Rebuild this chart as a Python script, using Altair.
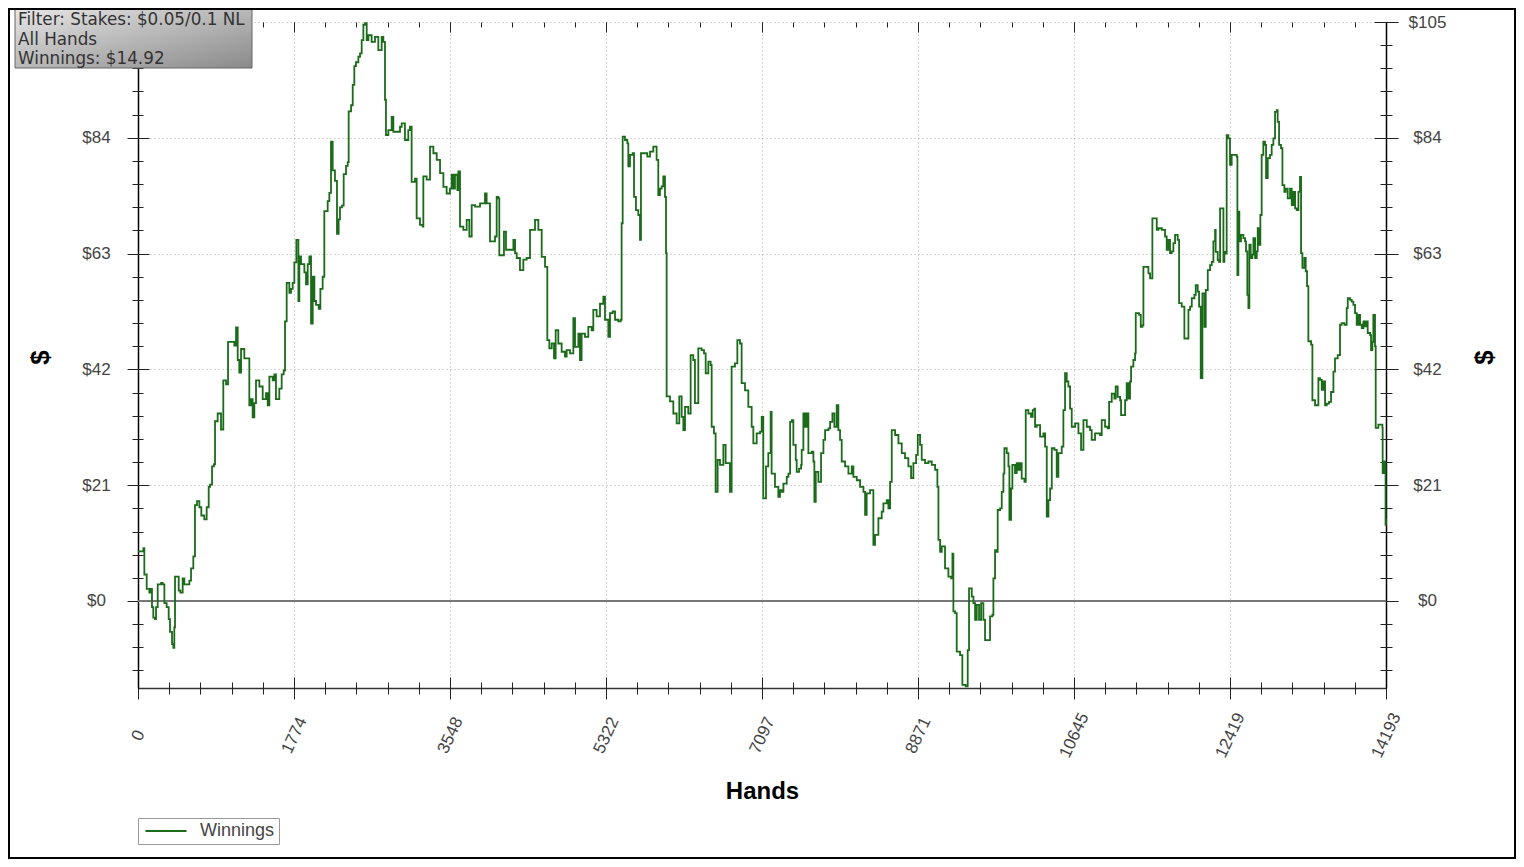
import altair as alt
import pandas as pd

# cumulative winnings, split in runs of hands
hands_1 = [0, 61, 72, 99, 129, 148, 159, 174, 193, 205,
           224, 262, 281, 300, 326, 349, 364, 387, 402, 413,
           421, 440, 463, 482, 508, 527, 546, 584, 603, 629,
           648, 671, 698, 720, 754, 781, 804, 819, 842, 864,
           876, 906, 925, 944, 963, 970, 1001, 1024, 1058, 1096,
           1115, 1134, 1152, 1172, 1209, 1247, 1266, 1285, 1304, 1323,
           1342, 1380, 1418, 1456, 1475, 1494, 1532, 1551, 1569, 1607,
           1634, 1657, 1672, 1691, 1721, 1740, 1759, 1778, 1801, 1824,
           1835, 1854, 1892, 1911, 1930, 1949, 1968, 1987, 2006, 2025,
           2055, 2074, 2100, 2119, 2157, 2176, 2195, 2214, 2240, 2263,
           2282, 2297, 2320, 2339, 2366, 2385, 2396, 2423, 2442, 2460,
           2479]
won_1 = [9.0, 9.6, 4.8, 2.2, 1.5, 2.2, -1.1, -3.0, -3.3, -1.1,
         3.0, 3.3, 3.0, -0.4, -1.1, -3.3, -5.6, -7.8, -8.5, -4.8,
         4.4, 4.4, 1.9, 1.5, 4.1, 3.0, 3.0, 3.7, 5.9, 8.1,
         17.4, 18.1, 17.0, 15.5, 14.8, 17.0, 20.7, 21.1, 24.4, 24.8,
         32.6, 34.0, 34.0, 31.1, 31.1, 40.0, 39.3, 47.0, 47.0, 46.3,
         49.6, 43.7, 41.4, 45.7, 44.0, 44.0, 35.5, 36.6, 33.3, 35.9,
         40.0, 38.9, 36.6, 37.7, 35.5, 40.7, 40.0, 41.1, 36.6, 38.5,
         41.1, 41.8, 50.7, 57.7, 55.9, 56.6, 57.7, 61.4, 65.5, 54.4,
         62.5, 61.1, 59.6, 57.4, 61.1, 62.5, 50.3, 58.8, 54.4, 53.7,
         53.0, 56.6, 58.8, 70.7, 72.5, 74.0, 83.3, 78.1, 76.2, 66.6,
         69.2, 71.4, 71.7, 77.4, 78.9, 79.6, 88.8, 89.9, 93.6, 97.0,
         97.7]

hands_2 = [2506, 2525, 2544, 2563, 2582, 2601, 2620, 2657, 2695, 2733,
           2771, 2790, 2809, 2820, 2847, 2885, 2904, 2980, 2999, 3036,
           3074, 3093, 3112, 3150, 3169, 3207, 3237, 3245, 3283, 3321,
           3359, 3397, 3435, 3473, 3510, 3548, 3567, 3586, 3605, 3632,
           3643, 3662, 3700, 3738, 3768, 3795, 3833, 3890, 3946, 3965,
           4003, 4060, 4079, 4098, 4109, 4147, 4162, 4185, 4212, 4269,
           4288, 4307, 4344, 4382, 4420, 4458, 4515, 4553, 4591, 4629,
           4655, 4678, 4705, 4731, 4750, 4780, 4818, 4856, 4875, 4913]
won_2 = [98.7, 99.3, 101.7, 104.5, 104.8, 101.7, 102.6, 101.4, 102.3, 99.9,
         102.3, 101.4, 90.9, 84.5, 85.4, 87.8, 85.1, 86.0, 86.6, 83.6,
         85.4, 86.0, 76.0, 76.6, 69.4, 68.2, 67.9, 77.0, 76.4, 82.4,
         81.2, 80.0, 77.6, 75.1, 73.9, 74.8, 77.3, 74.8, 77.3, 74.5,
         77.9, 67.9, 67.3, 69.1, 66.1, 71.8, 71.5, 72.1, 73.9, 72.1,
         65.2, 66.1, 73.3, 73.0, 62.7, 62.7, 67.0, 63.7, 63.7, 65.5,
         63.1, 62.2, 60.0, 61.9, 62.2, 67.3, 69.1, 67.3, 62.4, 60.6,
         47.3, 45.8, 46.7, 44.0, 49.1, 46.7, 45.2, 44.3, 45.5, 44.9]

hands_3 = [4951, 4970, 5008, 5026, 5045, 5083, 5121, 5159, 5178, 5216,
           5254, 5292, 5311, 5349, 5368, 5398, 5425, 5462, 5489, 5500,
           5512, 5538, 5565, 5576, 5595, 5625, 5641, 5663, 5690, 5709,
           5720, 5766, 5792, 5823, 5860, 5898, 5917, 5936, 5955, 5974,
           5993, 6005, 6012, 6050, 6088, 6126, 6156, 6183, 6202, 6221,
           6258, 6285, 6315, 6334, 6365, 6372, 6410, 6437, 6456, 6486,
           6512, 6524, 6550, 6569, 6592, 6619, 6657, 6683, 6713, 6732,
           6751, 6789, 6816, 6846, 6865, 6903, 6941, 6979, 6998, 7036,
           7074, 7093, 7111, 7142, 7168, 7195, 7206, 7244, 7282, 7301]
won_3 = [51.3, 46.1, 48.5, 43.7, 48.5, 47.9, 49.7, 49.1, 52.8, 51.6,
         53.9, 55.2, 51.0, 47.9, 52.2, 52.5, 51.0, 50.7, 51.0, 68.5,
         84.2, 83.6, 83.0, 78.8, 80.9, 81.2, 73.3, 70.9, 70.0, 65.5,
         81.2, 81.2, 80.6, 81.5, 82.4, 80.0, 73.6, 74.8, 75.2, 77.0,
         73.3, 63.1, 37.1, 36.2, 34.0, 32.2, 37.1, 33.4, 31.0, 35.2,
         34.0, 44.6, 43.7, 35.9, 35.9, 45.8, 45.5, 44.9, 41.3, 43.4,
         42.8, 31.6, 30.4, 19.8, 25.6, 24.7, 28.3, 25.0, 25.0, 19.8,
         42.5, 43.1, 47.3, 46.7, 39.5, 38.2, 35.2, 31.6, 28.6, 30.4,
         30.7, 33.4, 18.6, 24.4, 26.8, 34.3, 23.1, 20.7, 18.9, 20.1]

hands_4 = [7321, 7340, 7378, 7397, 7416, 7435, 7453, 7480, 7491, 7518,
           7541, 7548, 7567, 7586, 7605, 7624, 7662, 7681, 7692, 7708,
           7738, 7768, 7795, 7814, 7852, 7871, 7897, 7920, 7946, 7965,
           7984, 8003, 8041, 8079, 8117, 8136, 8174, 8212, 8250, 8269,
           8287, 8325, 8352, 8363, 8382, 8420, 8458, 8477, 8515, 8534,
           8553, 8572, 8610, 8648, 8686, 8723, 8761, 8792, 8818, 8849,
           8868, 8894, 8913, 8951, 8989, 9027, 9065, 9091, 9103, 9122,
           9141, 9178, 9216, 9247, 9262, 9273, 9292, 9311, 9349, 9375,
           9413, 9436, 9451, 9482, 9501, 9520, 9539, 9565, 9588, 9614,
           9633, 9671, 9690, 9717, 9728, 9747, 9766, 9777, 9804, 9823,
           9842, 9853]
won_4 = [19.8, 21.3, 22.5, 23.1, 32.5, 32.8, 28.3, 25.6, 23.4, 24.0,
         24.7, 27.4, 34.0, 31.6, 34.0, 26.8, 27.1, 25.3, 18.0, 23.4,
         21.6, 26.8, 29.2, 31.0, 31.3, 32.5, 34.0, 31.6, 35.5, 31.0,
         29.2, 25.3, 24.4, 23.1, 24.4, 22.5, 21.9, 20.7, 19.8, 15.6,
         19.5, 20.1, 20.1, 10.2, 12.0, 15.0, 16.2, 17.7, 18.3, 16.8,
         21.6, 31.0, 30.1, 28.6, 26.8, 25.9, 24.4, 22.3, 25.0, 26.5,
         30.1, 28.3, 25.6, 25.0, 25.3, 24.7, 23.8, 20.7, 11.1, 8.9,
         9.9, 5.9, 4.4, 4.1, 8.6, -1.9, -2.2, -9.2, -9.8, -15.2,
         -15.5, -8.9, 2.3, 0.8, -0.4, -3.4, -0.7, -3.4, -0.4, -3.4,
         -7.1, -7.1, -2.8, -2.5, 4.1, 9.2, 8.9, 16.5, 16.8, 19.8,
         23.1, 27.7]

hands_5 = [9880, 9899, 9910, 9929, 9944, 9974, 9993, 10012, 10031, 10050,
           10081, 10096, 10126, 10156, 10175, 10194, 10202, 10221, 10259, 10297,
           10316, 10335, 10354, 10373, 10392, 10422, 10448, 10467, 10505, 10524,
           10543, 10562, 10581, 10600, 10619, 10657, 10695, 10725, 10752, 10790,
           10827, 10846, 10884, 10941, 10960, 10998, 11028, 11044, 11074, 11104,
           11119, 11142, 11169, 11180, 11207, 11226, 11244, 11263, 11282, 11294,
           11320, 11339, 11347, 11385, 11404, 11423, 11434, 11453, 11491, 11510,
           11536, 11567, 11586, 11605, 11643, 11680, 11699, 11718, 11737, 11756,
           11775, 11794, 11824, 11840, 11870, 11900, 11938, 11946, 11965, 11984,
           12014, 12029, 12052, 12067, 12086, 12105, 12128, 12143, 12166, 12192,
           12211, 12230, 12249]
won_5 = [26.8, 24.4, 14.7, 20.4, 24.7, 23.2, 25.0, 23.8, 25.0, 22.2,
         21.6, 34.6, 34.0, 33.4, 34.6, 34.9, 31.6, 31.9, 29.8, 30.4,
         28.0, 15.3, 18.3, 20.4, 27.7, 27.4, 22.5, 26.8, 28.0, 34.6,
         41.3, 39.8, 38.9, 34.9, 31.6, 32.2, 30.4, 27.4, 32.8, 31.6,
         31.0, 29.2, 30.4, 30.1, 32.8, 31.6, 31.3, 36.1, 37.6, 36.7,
         38.9, 37.0, 36.4, 33.7, 33.7, 36.4, 39.5, 36.7, 39.8, 42.5,
         43.7, 44.9, 52.2, 51.9, 49.7, 50.0, 60.6, 60.6, 59.4, 58.5,
         69.4, 69.4, 67.3, 67.6, 67.3, 66.1, 63.7, 65.5, 63.1, 63.4,
         64.9, 66.4, 65.5, 54.0, 53.4, 47.6, 47.6, 52.8, 53.4, 54.9,
         55.5, 57.3, 56.1, 53.4, 40.4, 55.8, 49.7, 56.4, 60.0, 60.9,
         61.5, 65.2, 67.3]

hands_6 = [12256, 12279, 12294, 12306, 12332, 12344, 12355, 12370, 12381, 12400,
           12419, 12438, 12495, 12503, 12514, 12525, 12544, 12571, 12590, 12601,
           12616, 12628, 12639, 12654, 12673, 12685, 12704, 12723, 12734, 12749,
           12764, 12779, 12798, 12817, 12829, 12848, 12874, 12893, 12912, 12931,
           12950, 12961, 12977, 12999, 13015, 13037, 13052, 13075, 13102, 13121,
           13140, 13159, 13178, 13197, 13215, 13227, 13242, 13265, 13280, 13295,
           13310, 13341, 13356, 13386, 13416, 13424, 13443, 13462, 13481, 13500,
           13519, 13545, 13568, 13595, 13613, 13644, 13670, 13689, 13720, 13746,
           13758, 13784, 13803, 13822, 13841, 13860, 13879, 13898, 13917, 13936,
           13955, 13974, 13985, 14012, 14023, 14038, 14049, 14068, 14076, 14106,
           14137, 14152, 14155, 14171, 14182, 14188, 14193]
won_6 = [63.3, 61.8, 61.5, 71.2, 71.2, 61.5, 63.3, 63.0, 84.5, 83.9,
         79.1, 80.9, 80.6, 59.1, 70.6, 65.2, 66.4, 65.8, 65.2, 63.4,
         55.5, 53.1, 64.6, 62.2, 62.8, 65.8, 62.2, 63.4, 67.6, 64.6,
         70.0, 80.9, 83.3, 82.7, 76.7, 80.3, 80.9, 82.7, 83.9, 88.7,
         89.0, 86.9, 82.7, 82.1, 75.4, 74.2, 74.8, 73.0, 74.8, 71.8,
         74.2, 71.2, 70.9, 74.2, 76.9, 63.1, 60.4, 62.2, 59.8, 57.1,
         47.1, 46.5, 36.4, 35.5, 35.5, 40.4, 40.1, 38.3, 39.8, 35.5,
         35.8, 36.1, 37.9, 41.6, 44.0, 44.6, 50.1, 50.4, 50.1, 53.1,
         54.9, 54.6, 54.3, 53.7, 52.2, 50.1, 51.9, 50.1, 49.5, 50.7,
         49.8, 50.7, 48.6, 48.2, 45.5, 47.0, 51.9, 46.2, 31.4, 32.0,
         32.0, 31.4, 23.2, 25.3, 25.0, 13.8, 14.92]

x_ticks = [0, 1774, 3548, 5322, 7097, 8871, 10645, 12419, 14193]
y_ticks = [0, 21, 42, 63, 84, 105]
x_minor = [round(i * 14193 / 40, 1) for i in range(41)]
y_minor = [round(-12.6 + 4.2 * i, 1) for i in range(29)]
filter_lines = ["Filter: Stakes: $0.05/0.1 NL", "All Hands", "Winnings: $14.92"]
series_name = "Winnings"

hands = hands_1 + hands_2 + hands_3 + hands_4 + hands_5 + hands_6
won = won_1 + won_2 + won_3 + won_4 + won_5 + won_6
assert len(hands) == len(won)
df = pd.DataFrame({"hands": hands, "dollars": won, "series": series_name})

xs = alt.Scale(domain=[0, 14193], nice=False, zero=False)
ys = alt.Scale(domain=[-15.78, 105], nice=False, zero=False)
LAB_FONT = "Liberation Sans"
GRID = dict(grid=True, gridColor="#aaaaaa", gridDash=[1, 3], gridWidth=1)


def tick_axis(orient, values, size, offset):
    # tick-only axis, pulled inward so the ticks cross the frame
    return alt.Axis(orient=orient, values=values, tickSize=size, offset=offset,
                    domain=False, labels=False, grid=False, ticks=True,
                    tickColor="#222222", tickWidth=1, title=None)


def axis_layer(x_axis, y_axis):
    return alt.Chart(df).mark_line(opacity=0).encode(
        x=alt.X("hands:Q", scale=xs, axis=x_axis),
        y=alt.Y("dollars:Q", scale=ys, axis=y_axis),
    )


# the top-left label sits under the info box, as in the original
left_axis = alt.Axis(orient="left", values=y_ticks,
                     labelExpr="datum.value == 105 ? '' : '$' + datum.value",
                     ticks=False, labelPadding=42, labelAlign="center", labelFlush=False,
                     labelFont=LAB_FONT, labelFontSize=17, labelColor="#444444",
                     domainColor="#000000", domainWidth=1.5,
                     title="$", titleAngle=270, titleX=-98, titleY=335,
                     titleAlign="center", titleBaseline="middle",
                     titleFont=LAB_FONT, titleFontSize=26, titleFontWeight="bold",
                     titleColor="#000000", **GRID)
right_axis = alt.Axis(orient="right", values=y_ticks, labelExpr="'$' + datum.value",
                      ticks=False, labelPadding=41, labelAlign="center", labelFlush=False,
                      labelFont=LAB_FONT, labelFontSize=17, labelColor="#444444",
                      domainColor="#000000", domainWidth=1.5, grid=False,
                      title="$", titleAngle=270, titleX=98, titleY=335,
                      titleAlign="center", titleBaseline="middle",
                      titleFont=LAB_FONT, titleFontSize=26, titleFontWeight="bold",
                      titleColor="#000000")
bottom_axis = alt.Axis(orient="bottom", values=x_ticks, format="d", ticks=False,
                       labelAngle=295, labelAlign="center", labelBaseline="middle",
                       labelPadding=47, labelOverlap=False, labelFlush=False,
                       labelFont=LAB_FONT, labelFontSize=17, labelColor="#444444",
                       domainColor="#333333", domainWidth=1.5,
                       title="Hands", titleX=624, titleY=103,
                       titleAlign="center", titleBaseline="middle",
                       titleFont=LAB_FONT, titleFontSize=24, titleFontWeight="bold",
                       titleColor="#000000", **GRID)

axes = [
    axis_layer(bottom_axis, left_axis),
    axis_layer(None, right_axis),
    axis_layer(tick_axis("bottom", x_ticks, 22, -11), tick_axis("left", y_ticks, 22, -11)),
    axis_layer(tick_axis("bottom", x_minor, 12, -6), tick_axis("left", y_minor, 11, -5)),
    axis_layer(tick_axis("top", x_ticks, 10, -10), tick_axis("right", y_ticks, 24, -12)),
    axis_layer(tick_axis("top", x_minor, 5, -5), tick_axis("right", y_minor, 12, -6)),
]

zero = alt.Chart(pd.DataFrame({"dollars": [0]})).mark_rule(
    color="#777777", strokeWidth=2
).encode(y=alt.Y("dollars:Q", scale=ys, axis=None))

# a long flat legend swatch: custom path wider than its nominal size
line = alt.Chart(df).mark_line(interpolate="step-after", strokeWidth=1.8).encode(
    x=alt.X("hands:Q", scale=xs, axis=None),
    y=alt.Y("dollars:Q", scale=ys, axis=None),
    color=alt.Color("series:N",
                    scale=alt.Scale(domain=[series_name], range=["#1b6b1b"]),
                    legend=alt.Legend(orient="none", legendX=0, legendY=796, title=None,
                                      strokeColor="#999999", fillColor="#ffffff",
                                      padding=4, symbolType="M-3,0L3,0", symbolSize=187,
                                      symbolStrokeWidth=2, symbolOffset=15,
                                      labelOffset=25,
                                      labelFont=LAB_FONT, labelFontSize=18,
                                      labelColor="#444444")),
)

# info box in the top-left corner
box_fill = alt.LinearGradient(gradient="linear", x1=0, y1=0, x2=1, y2=1,
                              stops=[alt.GradientStop(color="#e6e6e6", offset=0),
                                     alt.GradientStop(color="#8a8a8a", offset=1)])
one = pd.DataFrame({"k": [0]})
box = alt.Chart(one).mark_rect(fill=box_fill, stroke="#666666", strokeWidth=1).encode(
    x=alt.value(-123), x2=alt.value(114), y=alt.value(-13), y2=alt.value(46))
box_text = alt.Chart(one).mark_text(
    align="left", baseline="top", font="DejaVu Sans", fontSize=16.8,
    lineHeight=19.5, color="#333333"
).encode(x=alt.value(-120), y=alt.value(-10), text=alt.value(filter_lines))

frame = alt.Chart(one).mark_rect(fillOpacity=0, stroke="#000000", strokeWidth=2).encode(
    x=alt.value(-129), x2=alt.value(1377), y=alt.value(-13), y2=alt.value(836))

chart = alt.layer(*axes, zero, line, box, box_text, frame).resolve_axis(
    x="independent", y="independent"
).properties(
    width=1248, height=666,
    padding={"left": 130, "top": 14, "right": 130, "bottom": 171},
    autosize=alt.AutoSizeParams(type="none"),
    background="#ffffff",
).configure_view(stroke="transparent")

chart.save("out.html", embed_options={"renderer": "svg", "actions": False})
